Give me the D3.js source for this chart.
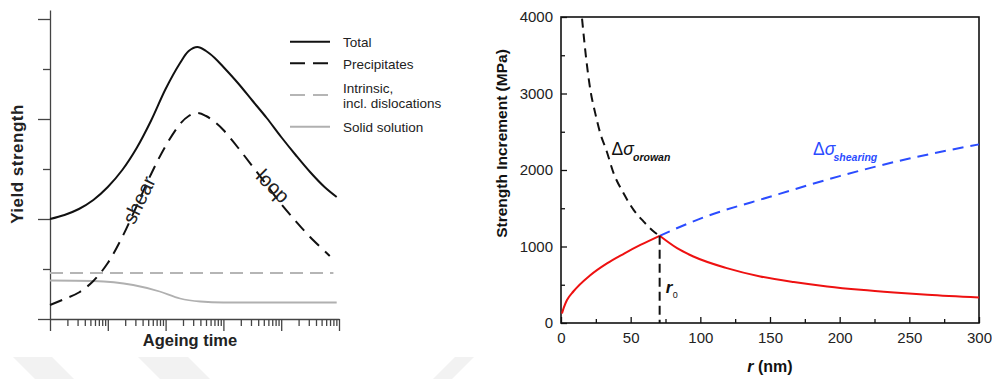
<!DOCTYPE html>
<html>
<head>
<meta charset="utf-8">
<script src="https://cdn.jsdelivr.net/npm/d3@7"></script>
<style>
  html, body { margin: 0; padding: 0; background: #fff; }
  svg { display: block; font-family: "Liberation Sans", Arial, sans-serif; }
</style>
</head>
<body>
<div class="container"></div>
<script>
const WIDTH = 992
const HEIGHT = 379

// ---- left panel: yield strength vs ageing time (log axis, arbitrary units) ----
const totalTime = [1, 1.78, 3.16, 5.62, 10, 17.8, 31.6, 56.2, 100, 178, 251, 355, 501, 708, 1000, 1780, 3160, 5620, 10000, 17800, 31600, 56200, 91200]
const totalValue = [2.0, 2.08, 2.2, 2.38, 2.64, 2.98, 3.42, 3.97, 4.6, 5.12, 5.36, 5.44, 5.36, 5.22, 5.04, 4.72, 4.37, 4.02, 3.64, 3.28, 2.94, 2.64, 2.44]

const precipTime = [1, 1.78, 3.16, 5.62, 10, 17.8, 31.6, 56.2, 100, 178, 251, 355, 501, 708, 1000, 1780, 3160, 5620, 10000, 17800, 31600, 69200]
const precipValue = [0.28, 0.40, 0.53, 0.76, 1.12, 1.64, 2.26, 2.90, 3.46, 3.90, 4.06, 4.12, 4.06, 3.94, 3.78, 3.43, 3.06, 2.68, 2.30, 1.96, 1.64, 1.26]

const intrinsicTime = [1, 80000]
const intrinsicValue = [0.92, 0.92]

const solidTime = [1, 5.6, 27.5, 79, 178, 400, 1000, 91200]
const solidValue = [0.77, 0.76, 0.68, 0.55, 0.41, 0.35, 0.33, 0.33]

const legendLabels = ['Total', 'Precipitates', 'Intrinsic,|incl. dislocations', 'Solid solution']

// ---- right panel: strength increment vs r ----
const orowanR = [15.1, 18.2, 21.1, 24.6, 28.2, 32.5, 37.8, 44.9, 52.1, 59.3, 66.5, 70.8]
const orowanS = [3980, 3435, 3044, 2740, 2479, 2261, 1957, 1696, 1478, 1326, 1195, 1140]

const shearR = [70.8, 100, 150, 200, 250, 300]
const shearS = [1140, 1365, 1650, 1920, 2150, 2335]

// red: shearing-controlled below r0, orowan-controlled above
const redRiseR = [0.7, 2, 4.3, 9, 21, 33, 45, 57, 70.8]
const redRiseS = [125, 200, 300, 415, 625, 780, 905, 1020, 1140]
const redFallR = [70.8, 83.3, 95, 119, 143, 167, 191, 215, 239, 263, 300]
const redFallS = [1140, 978, 869, 717, 608, 535, 478, 434, 399, 369, 334]

const r0 = 70.8
const r0Strength = 1140

const xTicksR = [0, 50, 100, 150, 200, 250, 300]
const xMinorR = [25, 75, 125, 175, 225, 275]
const yTicksR = [0, 1000, 2000, 3000, 4000]
const yMinorR = [500, 1500, 2500, 3500]

const zip = (xs, ys) => xs.map((x, i) => [x, ys[i]])

const svg = d3.select('.container').append('svg')
    .attr('width', WIDTH)
    .attr('height', HEIGHT)
    .attr('viewBox', `0 0 ${WIDTH} ${HEIGHT}`)

// faint watermark chevrons at the bottom
const wm = svg.append('g').attr('fill', '#f2f2f2')
wm.append('path').attr('d', 'M13,357 L52,357 L74,379 L35,379 Z')
wm.append('path').attr('d', 'M138,357 L188,357 L210,379 L160,379 Z')
wm.append('path').attr('d', 'M455,357 L474,357 L452,379 L433,379 Z')

// ================= LEFT PANEL =================
const xL = d3.scaleLog().domain([1, 1e5]).range([50, 339])
const yL = d3.scaleLinear().domain([0, 6.18]).range([319, 10])

const axisColor = '#444'
const left = svg.append('g')

// y axis (no labels)
left.append('g')
    .attr('transform', `translate(${xL(1)},0)`)
    .call(d3.axisLeft(yL).tickValues([0, 2, 4, 6]).tickSize(12).tickSizeOuter(0).tickFormat(''))
left.append('g')
    .attr('transform', `translate(${xL(1)},0)`)
    .call(d3.axisLeft(yL).tickValues([1, 3, 5]).tickSize(7).tickSizeOuter(0).tickFormat(''))
    .call(g => g.select('.domain').remove())

// x axis (log ticks)
const decades = [1, 10, 100, 1000, 10000, 100000]
const minors = []
for (let k = 0; k < 5; k++) for (let m = 2; m <= 9; m++) minors.push(m * Math.pow(10, k))

left.append('g')
    .attr('transform', `translate(0,${yL(0)})`)
    .call(d3.axisBottom(xL).tickValues(decades).tickSize(12).tickSizeOuter(0).tickFormat(''))
left.append('g')
    .attr('transform', `translate(0,${yL(0)})`)
    .call(d3.axisBottom(xL).tickValues(minors).tickSize(7).tickSizeOuter(0).tickFormat(''))
    .call(g => g.select('.domain').remove())

left.selectAll('.domain, .tick line')
    .attr('stroke', axisColor)
    .attr('stroke-width', 1.3)

const lineL = d3.line()
    .x(d => xL(d[0]))
    .y(d => yL(d[1]))

left.append('path')
    .datum(zip(intrinsicTime, intrinsicValue))
    .attr('d', lineL)
    .attr('fill', 'none')
    .attr('stroke', '#b5b5b5')
    .attr('stroke-width', 1.8)
    .attr('stroke-dasharray', '13,7')

left.append('path')
    .datum(zip(solidTime, solidValue))
    .attr('d', lineL.curve(d3.curveMonotoneX))
    .attr('fill', 'none')
    .attr('stroke', '#b0b0b0')
    .attr('stroke-width', 1.8)

left.append('path')
    .datum(zip(precipTime, precipValue))
    .attr('d', lineL.curve(d3.curveCatmullRom))
    .attr('fill', 'none')
    .attr('stroke', '#111')
    .attr('stroke-width', 2)
    .attr('stroke-dasharray', '13,8')

left.append('path')
    .datum(zip(totalTime, totalValue))
    .attr('d', lineL.curve(d3.curveCatmullRom))
    .attr('fill', 'none')
    .attr('stroke', '#111')
    .attr('stroke-width', 2)

// curve annotations
left.append('text')
    .attr('transform', 'translate(139,200) rotate(-64)')
    .attr('text-anchor', 'middle')
    .attr('font-size', 20)
    .attr('fill', '#222')
    .attr('dy', '0.35em')
    .text('shear')

left.append('text')
    .attr('transform', 'translate(273,186) rotate(45)')
    .attr('text-anchor', 'middle')
    .attr('font-size', 20)
    .attr('fill', '#222')
    .attr('dy', '0.35em')
    .text('loop')

// axis titles
left.append('text')
    .attr('x', 190)
    .attr('y', 346)
    .attr('text-anchor', 'middle')
    .attr('font-size', 16.5)
    .attr('font-weight', 'bold')
    .attr('fill', '#222')
    .text('Ageing time')

left.append('text')
    .attr('transform', 'translate(23,164) rotate(-90)')
    .attr('text-anchor', 'middle')
    .attr('font-size', 17)
    .attr('font-weight', 'bold')
    .attr('letter-spacing', 0.5)
    .attr('fill', '#222')
    .text('Yield strength')

// legend
const legendStyles = [
    { stroke: '#111', dash: null, y: 41.7, base: [46.5] },
    { stroke: '#111', dash: '15,8', y: 63.3, base: [69] },
    { stroke: '#b5b5b5', dash: '15,8', y: 95, base: [93, 108] },
    { stroke: '#b0b0b0', dash: null, y: 126.7, base: [131.5] }
]
const legend = left.append('g')
legendLabels.forEach((label, i) => {
    const s = legendStyles[i]
    legend.append('line')
        .attr('x1', 290).attr('x2', 330)
        .attr('y1', s.y).attr('y2', s.y)
        .attr('stroke', s.stroke)
        .attr('stroke-width', 2)
        .attr('stroke-dasharray', s.dash)
    label.split('|').forEach((part, j) => {
        legend.append('text')
            .attr('x', 343)
            .attr('y', s.base[j])
            .attr('font-size', 13.5)
            .attr('fill', '#222')
            .text(part)
    })
})

// ================= RIGHT PANEL =================
const xR = d3.scaleLinear().domain([0, 300]).range([561, 979])
const yR = d3.scaleLinear().domain([0, 4000]).range([323, 17])

const right = svg.append('g')

right.append('g')
    .attr('transform', `translate(0,${yR(0)})`)
    .call(d3.axisBottom(xR).tickValues(xTicksR).tickSize(-6).tickSizeOuter(0).tickPadding(9).tickFormat(d3.format('d')))
right.append('g')
    .attr('transform', `translate(0,${yR(0)})`)
    .call(d3.axisBottom(xR).tickValues(xMinorR).tickSize(-4).tickSizeOuter(0).tickFormat(''))

right.append('g')
    .attr('transform', `translate(${xR(0)},0)`)
    .call(d3.axisLeft(yR).tickValues(yTicksR).tickSize(-6).tickSizeOuter(0).tickPadding(8).tickFormat(d3.format('d')))
right.append('g')
    .attr('transform', `translate(${xR(0)},0)`)
    .call(d3.axisLeft(yR).tickValues(yMinorR).tickSize(-4).tickSizeOuter(0).tickFormat(''))

right.selectAll('.domain').remove()
right.selectAll('.tick line').attr('stroke', '#111').attr('stroke-width', 1.3)
right.selectAll('.tick text')
    .attr('font-family', '"Liberation Sans", Arial, sans-serif')
    .attr('font-size', 15)
    .attr('fill', '#222')

// frame
right.append('rect')
    .attr('x', xR(0))
    .attr('y', yR(4000))
    .attr('width', xR(300) - xR(0))
    .attr('height', yR(0) - yR(4000))
    .attr('fill', 'none')
    .attr('stroke', '#111')
    .attr('stroke-width', 1.6)

const lineR = d3.line()
    .x(d => xR(d[0]))
    .y(d => yR(d[1]))
    .curve(d3.curveMonotoneX)

right.append('path')
    .datum(zip(orowanR, orowanS))
    .attr('d', lineR)
    .attr('fill', 'none')
    .attr('stroke', '#111')
    .attr('stroke-width', 2)
    .attr('stroke-dasharray', '9,6')

right.append('path')
    .datum(zip(shearR, shearS))
    .attr('d', lineR)
    .attr('fill', 'none')
    .attr('stroke', '#2b4cff')
    .attr('stroke-width', 2)
    .attr('stroke-dasharray', '11,7')

right.selectAll('.red')
    .data([zip(redRiseR, redRiseS), zip(redFallR, redFallS)])
    .join('path')
    .attr('class', 'red')
    .attr('d', lineR)
    .attr('fill', 'none')
    .attr('stroke', '#ee1111')
    .attr('stroke-width', 2)
    .attr('stroke-linejoin', 'round')

// r0 marker
right.append('line')
    .attr('x1', xR(r0)).attr('x2', xR(r0))
    .attr('y1', yR(r0Strength)).attr('y2', yR(0))
    .attr('stroke', '#111')
    .attr('stroke-width', 2)
    .attr('stroke-dasharray', '9,5')

right.append('text')
    .attr('x', xR(r0) + 6)
    .attr('y', 293)
    .attr('font-size', 17)
    .attr('font-weight', 'bold')
    .attr('font-style', 'italic')
    .attr('fill', '#111')
    .text('r')
right.append('text')
    .attr('x', xR(r0) + 13)
    .attr('y', 298)
    .attr('font-size', 9)
    .attr('fill', '#111')
    .text('0')

// curve labels
const sigmaLabel = (x, color, sub, subX) => {
    const t = right.append('text')
        .attr('x', x)
        .attr('y', 154.5)
        .attr('font-size', 17.5)
        .attr('fill', color)
    t.append('tspan').text('Δ')
    t.append('tspan').attr('font-style', 'italic').text('σ')
    right.append('text')
        .attr('x', subX)
        .attr('y', 161)
        .attr('font-size', 10.5)
        .attr('font-weight', 'bold')
        .attr('font-style', 'italic')
        .attr('fill', color)
        .text(sub)
}
sigmaLabel(611.5, '#111', 'orowan', 633)
sigmaLabel(813, '#2b4cff', 'shearing', 833.5)

// axis titles
const rLabel = right.append('text')
    .attr('x', (xR(0) + xR(300)) / 2)
    .attr('y', 372)
    .attr('text-anchor', 'middle')
    .attr('font-size', 16)
    .attr('font-weight', 'bold')
    .attr('fill', '#111')
rLabel.append('tspan').attr('font-style', 'italic').text('r')
rLabel.append('tspan').text(' (nm)')

right.append('text')
    .attr('transform', 'translate(507,143.5) rotate(-90)')
    .attr('text-anchor', 'middle')
    .attr('font-size', 15.5)
    .attr('font-weight', 'bold')
    .attr('fill', '#111')
    .text('Strength Increment (MPa)')
</script>
</body>
</html>
